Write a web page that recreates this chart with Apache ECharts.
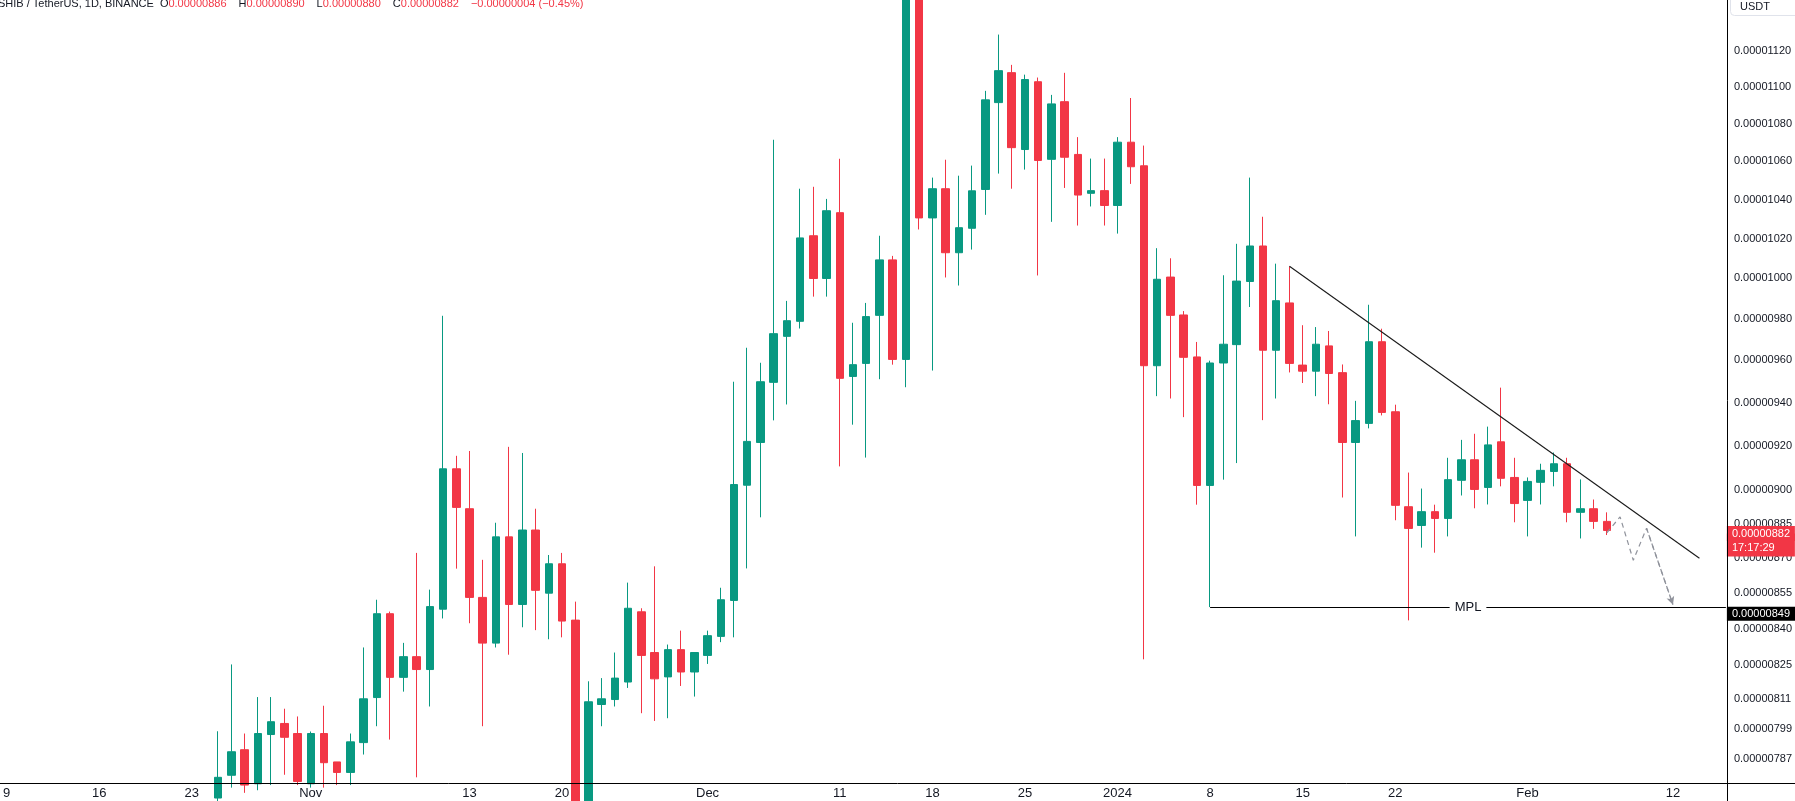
<!DOCTYPE html>
<html><head><meta charset="utf-8">
<script src="https://cdn.jsdelivr.net/npm/echarts@6/dist/echarts.min.js"></script>
<style>html,body{margin:0;padding:0;background:#fff}#c{width:1795px;height:801px}</style>
</head><body><div id="c"></div>
<script>
// ---------- data (prices in units of 1e-8 USDT) ----------
const axisStart = '2023-10-09';
const axisEnd = '2024-02-16';
const candleStart = '2023-10-25';

const opens = [
  772, 780.8, 790.8, 777.5, 796.8, 801.2, 797.2,
  777.5, 797.2, 786.0, 781.9, 793.6, 811.6, 846.2, 819.8, 828.3, 823.0, 848.1, 909.5, 891.6, 853.1, 833.9, 879.2, 850.1, 882.2, 854.9, 867.5, 843.5, 768, 808.8, 810.8, 817.9, 847.0, 830.0, 820.0, 831.2, 822.0,
  828.8, 836.7, 851.8, 902.1, 921.5, 949.5, 971.5, 978.8, 1021.4, 999.9, 1033.2, 952.3, 958.5, 981.7, 1009.2, 960.4, 1185, 1030.5, 1045.6, 1012.8, 1025.2, 1045.2, 1091.4, 1107.8, 1066.2, 1102.8, 1061.0, 1091.9, 1063.6, 1043.2, 1044.6,
  1036.9, 1070.1, 1057.6, 957.4, 1000.6, 981.9, 961.6, 902.0, 958.7, 967.5, 998.4, 1016.2, 964.8, 987.8, 957.7, 954.8, 966.9, 954.1, 921.5, 930.3, 968.9, 935.7, 892.5, 884.2, 890.3, 887.3, 904.3, 913.6, 901.1, 921.8, 905.6,
  895.3, 903.4, 908.3, 911.8, 890.0, 891.6, 886
];
const closes = [
  780.0, 790.0, 777, 797.2, 801.9, 795.7, 778.4,
  797.2, 785.7, 781.9, 793.9, 811.1, 846.2, 819.8, 828.3, 823.0, 849.2, 909.5, 892.2, 853.1, 833.9, 879.2, 850.1, 882.2, 856.1, 867.5, 843.1, 768, 809.9, 811.1, 819.5, 848.5, 828.8, 819.2, 831.2, 822.0, 830.0,
  837.0, 852.1, 902.4, 922.0, 949.8, 972.8, 979.1, 1020.3, 999.9, 1034.2, 951.4, 957.9, 981.1, 1009.2, 960.4, 1185, 1030.5, 1045.6, 1012.8, 1025.5, 1044.5, 1092.9, 1108.9, 1067.2, 1104.0, 1060.4, 1090.7, 1062.1, 1042.3, 1044.6, 1036.9,
  1070.1, 1057.1, 957.4, 999.5, 981.7, 961.4, 902.0, 958.7, 967.7, 998.6, 1016.2, 964.8, 988.9, 958.5, 954.8, 967.7, 953.7, 921.5, 931.6, 968.9, 935.4, 893.1, 882.9, 890.3, 887.3, 904.6, 913.6, 900.2, 920.4, 905.2, 893.9,
  903.8, 908.8, 911.8, 890.0, 891.6, 886.0, 882
];
const lows = [
  768, 776, 774, 775, 777, 781.0, 777,
  776, 776, 777, 777, 788.9, 800.1, 794.8, 814.0, 780.0, 808.0, 844.2, 865.4, 842.2, 800.1, 832.1, 829.1, 840.5, 839.3, 835.5, 836.3, 760, 762, 800.1, 808.0, 815.5, 805.3, 802.2, 803.3, 816.3, 812.0,
  825.3, 834.3, 836.3, 865.5, 887.8, 931.7, 939.1, 975.3, 990.9, 990.9, 910.6, 929.7, 914.6, 951.0, 957.9, 947.2, 1024.6, 955.1, 1000.4, 996.4, 1014.4, 1032.1, 1053.5, 1045.6, 1055.6, 1001.4, 1028.5, 1046.0, 1026.6, 1036.4, 1026.6,
  1022.5, 1048.1, 827.2, 943.0, 941.9, 933.2, 893.4, 849.0, 904.6, 912.1, 985.8, 931.8, 941.9, 954.2, 949.2, 943.0, 939.2, 896.6, 879.4, 928.0, 934.0, 886.5, 843.4, 874.5, 872.3, 879.4, 897.5, 891.8, 893.5, 901.6, 885.6,
  879.4, 893.5, 901.6, 885.6, 878.5, 882.7, 880
];
const highs = [
  798.1, 825.1, 797.2, 811.8, 811.8, 807.1, 804.0,
  798.0, 808.3, 786.0, 797.2, 832.1, 852.1, 847.1, 834.0, 872.2, 856.4, 981.5, 915.4, 917.6, 869.2, 885.4, 919.5, 916.7, 891.6, 871.3, 872.2, 851.3, 818.2, 819.5, 830.0, 859.4, 848.5, 866.4, 833.3, 839.1, 830.0,
  839.1, 857.2, 949.8, 966.0, 958.8, 1071.4, 988.8, 1045.6, 1046.6, 1040.3, 1061.3, 978.1, 987.8, 1021.4, 1011.2, 1205, 1195, 1051.4, 1060.8, 1052.4, 1057.7, 1097.8, 1129.0, 1112.1, 1106.7, 1105.1, 1095.6, 1107.7, 1072.8, 1061.4, 1061.4,
  1072.8, 1093.9, 1068.3, 1015.1, 1010.0, 983.8, 968.8, 959.8, 1001.5, 1017.3, 1051.4, 1031.1, 1007.3, 1005.9, 976.9, 976.0, 974.1, 958.0, 940.8, 986.9, 975.2, 939.0, 907.8, 900.6, 893.4, 914.5, 922.7, 925.5, 928.8, 947.0, 914.5,
  905.6, 911.8, 916.9, 914.5, 904.7, 895.7, 890
];

const priceTicks = [1120, 1100, 1080, 1060, 1040, 1020, 1000, 980, 960, 940, 920, 900, 885, 870, 855, 840, 825, 811, 799, 787];
const dateTickDates  = ['2023-10-09','2023-10-16','2023-10-23','2023-11-01','2023-11-13','2023-11-20','2023-12-01','2023-12-11','2023-12-18','2023-12-25','2024-01-01','2024-01-08','2024-01-15','2024-01-22','2024-02-01','2024-02-12'];
const dateTickLabels = ['9','16','23','Nov','13','20','Dec','11','18','25','2024','8','15','22','Feb','12'];

const yRange = [777.8, 1148.6];

const projDates  = ['2024-02-07','2024-02-08','2024-02-09','2024-02-10','2024-02-12'];
const projValues = [881, 888, 869, 883, 850];

const trendDates  = ['2024-01-14', '2024-02-14'];
const trendValues = [1006.0, 869.9];

const mplDate = '2024-01-08';
const mplLevel = 849;
const lastPrice = 882;
const countdown = '17:17:29';

const legendKeys = ['O', 'H', 'L', 'C'];
const legendVals = [886, 890, 880, 882];
const legendChange = -4;
const legendPct = -0.45;

// ---------- helpers ----------
const L = v => Math.log(v * 1e-8);
const fmt = v => (v * 1e-8).toFixed(8);
function buildDates(a, b) {
  const out = [];
  let t = Date.parse(a + 'T00:00:00Z');
  const e = Date.parse(b + 'T00:00:00Z');
  while (t <= e) { out.push(new Date(t).toISOString().slice(0, 10)); t += 86400000; }
  return out;
}
const cats = buildDates(axisStart, axisEnd);
const off = cats.indexOf(candleStart);
const candleData = cats.map((d, i) => {
  const k = i - off;
  return (k >= 0 && k < opens.length)
    ? [L(opens[k]), L(closes[k]), L(lows[k]), L(highs[k])]
    : ['-', '-', '-', '-'];
});
const tickMap = {};
dateTickDates.forEach((d, i) => { tickMap[d] = dateTickLabels[i]; });

const GREEN = '#089981', RED = '#F23645', INK = '#131722';
const W = 1795, H = 801;
const G = { left: 2, right: 68, top: 0, bottom: 18 };
const FONT = '"Liberation Sans", Arial, sans-serif';

// legend rich text
let legendText = '{t|SHIB / TetherUS, 1D, BINANCE}{g0|}';
legendKeys.forEach((k, i) => {
  legendText += '{k|' + k + '}{v|' + fmt(legendVals[i]) + '}{g|}';
});
legendText += '{v|\u2212' + fmt(Math.abs(legendChange)) + ' (\u2212' + Math.abs(legendPct).toFixed(2) + '%)}';

const noLine = { width: 0, color: 'rgba(0,0,0,0)' };

const option = {
  animation: false,
  backgroundColor: '#ffffff',
  title: [
    {
      text: legendText, left: -2, top: -2, padding: 0,
      textStyle: {
        fontFamily: FONT, fontSize: 11, fontWeight: 'normal', lineHeight: 12,
        rich: {
          t: { color: INK, fontSize: 11, fontFamily: FONT },
          g0: { width: 6 },
          g: { width: 12 },
          k: { color: INK, fontSize: 11, fontFamily: FONT },
          v: { color: RED, fontSize: 11, fontFamily: FONT }
        }
      }
    },
    {
      text: 'USDT', left: 1730, top: -8, padding: [9, 40, 3, 10],
      borderColor: '#e0e3eb', borderWidth: 1, borderRadius: 4,
      textStyle: { fontFamily: FONT, fontSize: 11, fontWeight: 'normal', color: INK, lineHeight: 12 }
    }
  ],
  grid: { left: G.left, right: G.right, top: G.top, bottom: G.bottom, containLabel: false },
  xAxis: {
    type: 'category',
    data: cats,
    boundaryGap: false,
    axisLine: { show: false },
    axisTick: { show: false },
    splitLine: { show: false },
    axisLabel: {
      interval: (i, v) => Object.prototype.hasOwnProperty.call(tickMap, v),
      formatter: v => tickMap[v] || '',
      color: INK, fontSize: 13, fontFamily: FONT, margin: 4
    }
  },
  yAxis: {
    type: 'value',
    position: 'right',
    min: L(yRange[0]),
    max: L(yRange[1]),
    axisLine: { show: false },
    axisTick: { show: false },
    splitLine: { show: false },
    axisLabel: {
      customValues: priceTicks.map(L),
      formatter: v => Math.exp(v).toFixed(8),
      color: INK, fontSize: 11, fontFamily: FONT, margin: 8, align: 'left'
    }
  },
  series: [
    {
      type: 'candlestick',
      data: candleData,
      barWidth: 8,
      clip: true,
      itemStyle: {
        color: GREEN, color0: RED,
        borderColor: GREEN, borderColor0: RED, borderColorDoji: GREEN,
        borderWidth: 1
      },
      emphasis: { disabled: true }
    },
    {
      type: 'line',
      data: projDates.map((d, i) => [d, L(projValues[i])]),
      symbol: 'none',
      clip: false,
      silent: true,
      lineStyle: { color: '#8f929b', width: 1.2, type: [5, 4] },
      z: 4,
      markLine: {
        silent: true,
        animation: false,
        symbol: ['none', 'none'],
        label: { show: false },
        data: [
          [
            { coord: [trendDates[0], L(trendValues[0])], lineStyle: { color: '#1a1a1a', width: 1.1, type: 'solid' } },
            { coord: [trendDates[1], L(trendValues[1])] }
          ],
          [
            {
              coord: [mplDate, L(mplLevel)],
              lineStyle: { color: '#000000', width: 1, type: 'solid' },
              label: {
                show: true, position: 'middle', distance: 0, verticalAlign: 'middle',
                formatter: 'MPL', color: INK, fontSize: 13, fontFamily: FONT,
                backgroundColor: '#ffffff', padding: [1, 5, 1, 5]
              }
            },
            { coord: [axisEnd, L(mplLevel)] }
          ],
          {
            yAxis: L(mplLevel), lineStyle: noLine,
            label: {
              show: true, position: 'end', distance: 1,
              formatter: fmt(mplLevel), color: '#ffffff', backgroundColor: '#000000',
              fontSize: 11, fontFamily: FONT, lineHeight: 12, padding: [1, 5, 1, 5]
            }
          },
          {
            yAxis: L(lastPrice), lineStyle: noLine,
            label: {
              show: true, position: 'end', distance: 1, verticalAlign: 'top',
              formatter: countdown, color: '#ffffff', backgroundColor: RED,
              fontSize: 11, fontFamily: FONT, lineHeight: 12, padding: [8, 5, 3, 5], width: 58
            }
          },
          {
            yAxis: L(lastPrice), lineStyle: noLine,
            label: {
              show: true, position: 'end', distance: 1, verticalAlign: 'middle',
              formatter: fmt(lastPrice), color: '#ffffff', backgroundColor: RED,
              fontSize: 11, fontFamily: FONT, lineHeight: 12, padding: [2, 5, 1, 5], width: 58
            }
          },
          [
            { coord: [projDates[3], L(projValues[3])], symbol: 'none',
              lineStyle: { color: '#8f929b', width: 1.2, type: [5, 4] } },
            { coord: [projDates[4], L(projValues[4])], symbol: 'arrow', symbolSize: [6, 8] }
          ]
        ]
      }
    }
  ],
  graphic: [
    { type: 'line', silent: true, z: 10,
      shape: { x1: 0, y1: H - G.bottom + 0.5, x2: W, y2: H - G.bottom + 0.5 },
      style: { stroke: '#000000', lineWidth: 1 } },
    { type: 'line', silent: true, z: 10,
      shape: { x1: W - G.right + 0.5, y1: 0, x2: W - G.right + 0.5, y2: H },
      style: { stroke: '#000000', lineWidth: 1 } }
  ]
};

const chart = echarts.init(document.getElementById('c'), null, { renderer: 'canvas', width: W, height: H });
chart.setOption(option);
</script>
</body></html>
